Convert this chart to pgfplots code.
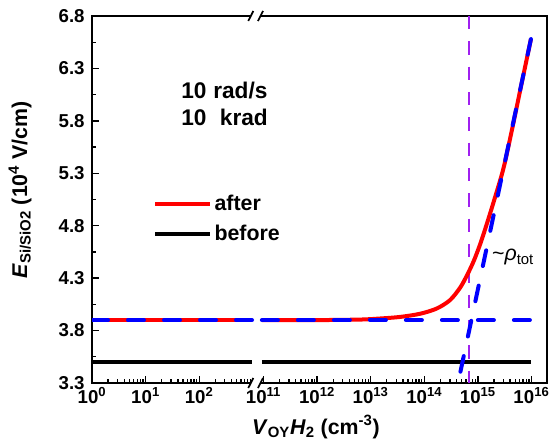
\documentclass[border=0pt]{standalone}
\usepackage{fontspec}
\setmainfont{Liberation Sans}
\usepackage{pgfplots}
\pgfplotsset{compat=1.18}
\definecolor{vio}{RGB}{160,32,240}
\begin{document}
\begin{tikzpicture}
\begin{axis}[
  scale only axis, width=341.25pt, height=275.25pt,
  xmin=0, xmax=8.49, ymin=3.3, ymax=6.8,
  axis line style={line width=1.3pt},
  tick style={line width=1pt, black},
  major tick length=5pt, minor tick length=3pt,
  tick align=inside, tick pos=left,
  xtick={0,1,2,3.2,4.2,5.2,6.2,7.2,8.2},
  xticklabels={10\textsuperscript{0},10\textsuperscript{1},10\textsuperscript{2},10\textsuperscript{11},10\textsuperscript{12},10\textsuperscript{13},10\textsuperscript{14},10\textsuperscript{15},10\textsuperscript{16}},
  minor xtick={0.301,0.477,0.602,0.699,0.778,0.845,0.903,0.954,
    1.301,1.477,1.602,1.699,1.778,1.845,1.903,1.954,
    2.301,2.477,2.602,2.699,2.778,2.845,2.903,2.954,
    3.501,3.677,3.802,3.899,3.978,4.045,4.103,4.154,
    4.501,4.677,4.802,4.899,4.978,5.045,5.103,5.154,
    5.501,5.677,5.802,5.899,5.978,6.045,6.103,6.154,
    6.501,6.677,6.802,6.899,6.978,7.045,7.103,7.154,
    7.501,7.677,7.802,7.899,7.978,8.045,8.103,8.154},
  ytick={3.3,3.8,4.3,4.8,5.3,5.8,6.3,6.8},
  minor y tick num=1,
  /pgf/number format/assume math mode=true,
  yticklabel style={/pgf/number format/fixed,/pgf/number format/precision=1,/pgf/number format/fixed zerofill, xshift=-2pt},
  ticklabel style={font=\fontsize{14}{16}\selectfont\bfseries},
  xlabel={\textit{V}\textsubscript{OY}\textit{H}\textsubscript{2} (cm\textsuperscript{-3})},
  ylabel={\textit{E}\textsubscript{Si/SiO2} (10\textsuperscript{4} V/cm)},
  label style={font=\fontsize{16}{19}\selectfont\bfseries},
  xlabel style={at={(axis description cs:0.492,-0.12)}, anchor=center},
  ylabel style={at={(axis description cs:-0.158,0.526)}, anchor=center},
  legend style={at={(0.134,0.447)}, anchor=west, draw=none, fill=none,
    font=\fontsize{16}{19}\selectfont\bfseries, row sep=5pt, inner sep=0pt},
  legend cell align=left,
  legend image code/.code={\draw[#1] (0pt,0pt) -- (41pt,0pt);},
]
\addlegendimage{red, line width=3pt}
\addlegendentry{after}
\addlegendimage{black, line width=3pt}
\addlegendentry{before}

\addplot[vio, line width=1.5pt, dash pattern=on 10pt off 9pt, forget plot] coordinates {(7.03,6.8)(7.03,3.3)};

\addplot[black, line width=3pt, forget plot] coordinates {(0,3.5)(2.99,3.5)};
\addplot[black, line width=3pt, forget plot] coordinates {(3.17,3.5)(8.19,3.5)};

\addplot[red, line width=3pt, forget plot] coordinates {(0,3.9)(2.99,3.9)};
\addplot[red, line width=3pt, smooth, forget plot] coordinates {
(3.17,3.9)(4.2,3.9)(5.0,3.905)(5.373,3.915)(5.746,3.93)(6.119,3.96)(6.431,4.01)
(6.679,4.09)(6.87,4.21)(7.00,4.33)(7.12,4.46)(7.24,4.62)(7.35,4.79)(7.49,5.02)
(7.674,5.34)(7.83,5.70)(7.985,6.08)(8.19,6.58)};

\addplot[blue, line width=3pt, line cap=round, dash pattern=on 12pt off 15pt, forget plot] coordinates {(0,3.9)(2.99,3.9)};
\addplot[blue, line width=3pt, line cap=round, dash pattern=on 12pt off 15pt, forget plot] coordinates {(3.17,3.9)(8.19,3.9)};
\addplot[blue, line width=3pt, line cap=round, dash pattern=on 12pt off 15pt, forget plot] coordinates {(8.19,6.58)(6.83,3.3)};

\node[anchor=west, font=\fontsize{17}{20}\selectfont\bfseries] at (axis cs:1.58,6.09) {10\hspace{5pt}rad/s};
\node[anchor=west, font=\fontsize{17}{20}\selectfont\bfseries] at (axis cs:1.58,5.83) {10\hspace{10pt}krad};
\node[anchor=west, font=\fontsize{16}{19}\selectfont, inner sep=0pt] at (axis cs:7.46,4.50) {\textasciitilde\textit{ρ}\textsubscript{tot}};

\coordinate (SW) at (rel axis cs:0,0);
\coordinate (B1) at (axis cs:2.963,3.3);
\coordinate (B2) at (axis cs:3.144,3.3);
\coordinate (T1) at (axis cs:2.963,6.8);
\coordinate (T2) at (axis cs:3.144,6.8);
\end{axis}
\fill[white] ([shift={(0pt,-1.5pt)}]B1) rectangle ([shift={(0pt,1.5pt)}]B2);
\fill[white] ([shift={(0pt,-1.5pt)}]T1) rectangle ([shift={(0pt,1.5pt)}]T2);
\foreach \p in {B1,B2,T1,T2}{
  \draw[line width=1.3pt] ([shift={(-1.9pt,-3.75pt)}]\p) -- ([shift={(1.9pt,3.75pt)}]\p);
}
\pgfresetboundingbox
\useasboundingbox ([shift={(-69pt,-48pt)}]SW) rectangle ([shift={(345pt,287.25pt)}]SW);
\end{tikzpicture}
\end{document}
